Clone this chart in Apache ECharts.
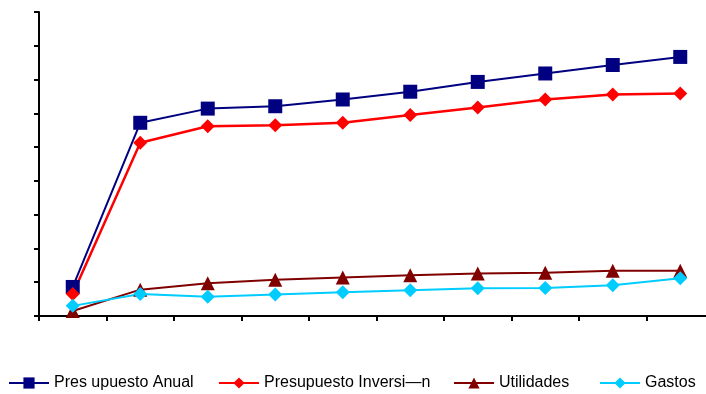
<!DOCTYPE html>
<html>
<head>
<meta charset="utf-8">
<script src="https://cdn.jsdelivr.net/npm/echarts@6/dist/echarts.min.js"></script>
<style>html,body{margin:0;padding:0;background:#fff}#c{width:706px;height:394px}</style>
</head>
<body>
<div id="c"></div>
<script>
const categories = ['1','2','3','4','5','6','7','8','9','10'];
const presupuestoAnual = [86, 572, 614, 621, 641, 664, 693, 718, 743, 767];
const presupuestoInversion = [65, 513, 562, 565, 572, 595, 617, 641, 656, 659];
const utilidades = [15, 78, 97, 107, 114, 121, 126, 128, 134, 134];
const gastos = [30, 65, 57, 64, 70, 76, 82, 83, 91, 112];
const seriesNames = ['Pres upuesto Anual', 'Presupuesto Inversi\u2014n', 'Utilidades', 'Gastos'];
const legendLefts = [8, 218, 453, 599];

const chart = echarts.init(document.getElementById('c'), null, {renderer: 'canvas'});
function mk(name, data, color, symbol, lw) {
  return {
    name: name, type: 'line', data: data, symbol: symbol, symbolSize: 14,
    lineStyle: {color: color, width: lw}, itemStyle: {color: color},
    emphasis: {disabled: true}, animation: false
  };
}
chart.setOption({
  animation: false,
  grid: {left: 39, top: 12, width: 675, bottom: 78, containLabel: false, outerBoundsMode: 'none'},
  legend: seriesNames.map((n, i) => ({
    left: legendLefts[i], top: 375, padding: 0, itemGap: 26, itemWidth: 40, itemHeight: 14,
    textStyle: {fontFamily: 'Liberation Sans, Arial', fontSize: 16, color: '#000'},
    data: [n]
  })),
  xAxis: {
    type: 'category', data: categories, boundaryGap: true,
    axisLine: {lineStyle: {color: '#000', width: 2}},
    axisTick: {show: true, length: 5, lineStyle: {color: '#000', width: 2}},
    axisLabel: {show: false}, splitLine: {show: false}
  },
  yAxis: {
    type: 'value', min: 0, max: 900, interval: 100,
    axisLine: {show: true, lineStyle: {color: '#000', width: 2}},
    axisTick: {show: true, length: 5, lineStyle: {color: '#000', width: 2}},
    axisLabel: {show: false}, splitLine: {show: false}
  },
  series: [
    mk(seriesNames[0], presupuestoAnual, '#000080', 'rect', 2),
    mk(seriesNames[1], presupuestoInversion, '#FF0000', 'diamond', 2.5),
    mk(seriesNames[2], utilidades, '#800000', 'triangle', 2),
    mk(seriesNames[3], gastos, '#00CCFF', 'diamond', 2)
  ]
});
</script>
</body>
</html>
